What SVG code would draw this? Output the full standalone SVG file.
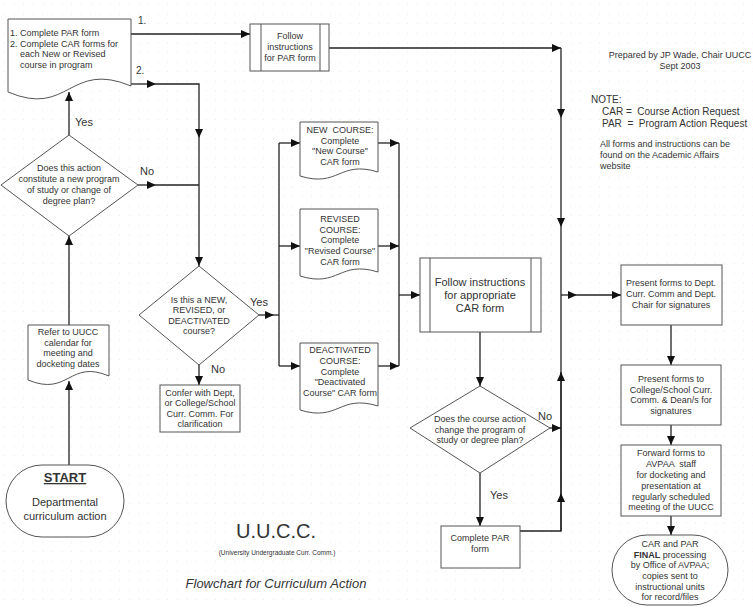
<svg xmlns="http://www.w3.org/2000/svg" width="753" height="608" viewBox="0 0 753 608">
<style>
text{font-family:"Liberation Sans",Arial,sans-serif;fill:#333;font-size:9px;text-anchor:middle}
.l{text-anchor:start}
.s{fill:#fff;stroke:#555;stroke-width:1}
.c{fill:none;stroke:#222;stroke-width:1.3}
.lab{font-size:11px;text-anchor:start}
</style>
<defs>
<pattern id="grid" width="9.6" height="9.6" patternUnits="userSpaceOnUse">
<rect x="4" y="4" width="1" height="1" fill="#f6d8f6"/>
</pattern>
<marker id="a" markerUnits="userSpaceOnUse" markerWidth="9" markerHeight="8" refX="9" refY="4" orient="auto">
<path d="M0,0 L9,4 L0,8 z" fill="#111"/>
</marker>
</defs>
<rect width="753" height="608" fill="#fff"/>
<rect width="753" height="608" fill="url(#grid)"/>

<g id="connectors">
<path class="c" d="M131,34 H250" marker-end="url(#a)"/>
<path class="c" d="M329,48 H561" marker-end="url(#a)"/>
<path class="c" d="M561,48 V118" marker-end="url(#a)"/>
<path class="c" d="M561,118 V227" marker-end="url(#a)"/>
<path class="c" d="M561,227 V531"/>
<path class="c" d="M520,531 H561 V493" marker-end="url(#a)"/>
<path class="c" d="M561,493 V372" marker-end="url(#a)"/>
<path class="c" d="M561,295 H577" marker-end="url(#a)"/>
<path class="c" d="M577,295 H621" marker-end="url(#a)"/>
<path class="c" d="M131,84 H156" marker-end="url(#a)"/>
<path class="c" d="M156,84 H199 V138" marker-end="url(#a)"/>
<path class="c" d="M199,138 V266" marker-end="url(#a)"/>
<path class="c" d="M138,185 H156" marker-end="url(#a)"/>
<path class="c" d="M156,185 H199"/>
<path class="c" d="M69,135 V92" marker-end="url(#a)"/>
<path class="c" d="M69,325 V236" marker-end="url(#a)"/>
<path class="c" d="M69,465 V381" marker-end="url(#a)"/>
<path class="c" d="M259,315 H274" marker-end="url(#a)"/>
<path class="c" d="M274,315 H279"/>
<path class="c" d="M279,143 V366"/>
<path class="c" d="M279,143 H300" marker-end="url(#a)"/>
<path class="c" d="M279,246 H300" marker-end="url(#a)"/>
<path class="c" d="M279,366 H300" marker-end="url(#a)"/>
<path class="c" d="M199,365 V385" marker-end="url(#a)"/>
<path class="c" d="M378,143 H399" marker-end="url(#a)"/>
<path class="c" d="M378,246 H399" marker-end="url(#a)"/>
<path class="c" d="M378,366 H399" marker-end="url(#a)"/>
<path class="c" d="M399,143 V366"/>
<path class="c" d="M399,295 H420" marker-end="url(#a)"/>
<path class="c" d="M480,332 V386" marker-end="url(#a)"/>
<path class="c" d="M550,428 H561" marker-end="url(#a)"/>
<path class="c" d="M480,473 V526" marker-end="url(#a)"/>
<path class="c" d="M671,325 V365" marker-end="url(#a)"/>
<path class="c" d="M671,425 V445" marker-end="url(#a)"/>
<path class="c" d="M671,516 V535" marker-end="url(#a)"/>
</g>

<g id="labels">
<text class="l" x="138" y="24" style="font-size:10px">1.</text>
<text class="l" x="136" y="74" style="font-size:10px">2.</text>
<text class="lab" x="75" y="126">Yes</text>
<text class="lab" x="140" y="175">No</text>
<text class="lab" x="250" y="306">Yes</text>
<text class="lab" x="211" y="373">No</text>
<text class="lab" x="538" y="420">No</text>
<text class="lab" x="490" y="499">Yes</text>
</g>

<g id="doc-start-forms">
<path class="s" d="M8,19 H131 V86 C69,60 69,118 8,92 Z"/>
<text class="l" x="10" y="36">1. Complete PAR form</text>
<text class="l" x="10" y="47">2. Complete CAR forms for</text>
<text class="l" x="20" y="57">each New or Revised</text>
<text class="l" x="20" y="68">course in program</text>
</g>

<g id="follow-par">
<rect class="s" x="250" y="24" width="79" height="47"/>
<path class="s" d="M261,24 V71 M320,24 V71"/>
<text x="290" y="39">Follow</text>
<text x="290" y="50">instructions</text>
<text x="290" y="61">for PAR form</text>
</g>

<g id="notes">
<text x="680" y="58">Prepared by JP Wade, Chair UUCC</text>
<text x="680" y="69">Sept 2003</text>
<text class="l" x="591" y="103" style="font-size:10px">NOTE:</text>
<text class="l" x="602" y="115" style="font-size:10px" xml:space="preserve">CAR =  Course Action Request</text>
<text class="l" x="602" y="127" style="font-size:10px" xml:space="preserve">PAR  =  Program Action Request</text>
<text class="l" x="600" y="147">All forms and instructions can be</text>
<text class="l" x="600" y="158">found on the Academic Affairs</text>
<text class="l" x="600" y="169">website</text>
</g>

<g id="decision-program">
<polygon class="s" points="69,135 138,185 69,236 1,185"/>
<text x="69" y="171">Does this action</text>
<text x="69" y="182">constitute a new program</text>
<text x="69" y="193">of study or change of</text>
<text x="69" y="204">degree plan?</text>
</g>

<g id="decision-course">
<polygon class="s" points="199,266 259,315 199,365 139,315"/>
<text x="199" y="303">Is this a NEW,</text>
<text x="199" y="313">REVISED, or</text>
<text x="199" y="324">DEACTIVATED</text>
<text x="199" y="334">course?</text>
</g>

<g id="confer">
<rect class="s" x="160" y="385" width="80" height="47"/>
<text x="200" y="396">Confer with Dept,</text>
<text x="200" y="406">or College/School</text>
<text x="200" y="417">Curr. Comm. For</text>
<text x="200" y="427">clarification</text>
</g>

<g id="refer">
<path class="s" d="M28,325 H109 V376 C69,359 69,397 28,380 Z"/>
<text x="68" y="335">Refer to UUCC</text>
<text x="68" y="346">calendar for</text>
<text x="68" y="356">meeting and</text>
<text x="68" y="367">docketing dates</text>
</g>

<g id="start">
<rect class="s" x="6" y="465" width="118" height="72" rx="36" ry="36"/>
<text x="65" y="482" style="font-size:13px;font-weight:bold;text-decoration:underline">START</text>
<text x="65" y="506" style="font-size:11px">Departmental</text>
<text x="65" y="520" style="font-size:11px">curriculum action</text>
</g>

<g id="new-course">
<path class="s" d="M300,122 H378 V172 C339,160 339,188 300,176 Z"/>
<text x="340" y="133" xml:space="preserve">NEW  COURSE:</text>
<text x="340" y="144">Complete</text>
<text x="340" y="154">"New Course"</text>
<text x="340" y="165">CAR form</text>
</g>

<g id="revised-course">
<path class="s" d="M300,209 H378 V272 C339,260 339,288 300,276 Z"/>
<text x="340" y="222">REVISED</text>
<text x="340" y="233">COURSE:</text>
<text x="340" y="243">Complete</text>
<text x="340" y="254">"Revised Course"</text>
<text x="340" y="265">CAR form</text>
</g>

<g id="deactivated-course">
<path class="s" d="M300,343 H378 V406 C339,394 339,422 300,410 Z"/>
<text x="340" y="353">DEACTIVATED</text>
<text x="340" y="364">COURSE:</text>
<text x="340" y="375">Complete</text>
<text x="340" y="385">"Deactivated</text>
<text x="340" y="396">Course" CAR form</text>
</g>

<g id="follow-car">
<rect class="s" x="420" y="258" width="121" height="74"/>
<path class="s" d="M430,258 V332 M531,258 V332"/>
<text x="480" y="286" style="font-size:11px">Follow instructions</text>
<text x="480" y="299" style="font-size:11px">for appropriate</text>
<text x="480" y="312" style="font-size:11px">CAR form</text>
</g>

<g id="decision-change">
<polygon class="s" points="480,386 550,428 480,473 410,428"/>
<text x="480" y="422">Does the course action</text>
<text x="480" y="433">change the program of</text>
<text x="480" y="443">study or degree plan?</text>
</g>

<g id="complete-par">
<rect class="s" x="441" y="526" width="79" height="42"/>
<text x="480" y="541">Complete PAR</text>
<text x="480" y="552">form</text>
</g>

<g id="present-dept">
<rect class="s" x="621" y="265" width="101" height="60"/>
<text x="671" y="286">Present forms to Dept.</text>
<text x="671" y="297">Curr. Comm and Dept.</text>
<text x="671" y="308">Chair for signatures</text>
</g>

<g id="present-college">
<rect class="s" x="621" y="365" width="100" height="60"/>
<text x="671" y="382">Present forms to</text>
<text x="671" y="393">College/School Curr.</text>
<text x="671" y="403">Comm. &amp; Dean/s for</text>
<text x="671" y="414">signatures</text>
</g>

<g id="forward-avpaa">
<rect class="s" x="621" y="445" width="100" height="71"/>
<text x="671" y="456">Forward forms to</text>
<text x="671" y="467" xml:space="preserve">AVPAA  staff</text>
<text x="671" y="478">for docketing and</text>
<text x="671" y="489">presentation at</text>
<text x="671" y="500">regularly scheduled</text>
<text x="671" y="510">meeting of the UUCC</text>
</g>

<g id="final">
<rect class="s" x="612" y="535" width="116" height="70" rx="35" ry="35"/>
<text x="670" y="547">CAR and PAR</text>
<text x="670" y="558"><tspan font-weight="bold">FINAL</tspan> processing</text>
<text x="670" y="568">by Office of AVPAA;</text>
<text x="670" y="579">copies sent to</text>
<text x="670" y="590">instructional units</text>
<text x="670" y="600">for record/files</text>
</g>

<g id="title">
<text x="276" y="538" style="font-size:20px">U.U.C.C.</text>
<text x="277" y="555" style="font-size:6.5px">(University Undergraduate Curr. Comm.)</text>
<text x="276" y="588" style="font-size:13px;font-style:italic">Flowchart for Curriculum Action</text>
</g>
</svg>
